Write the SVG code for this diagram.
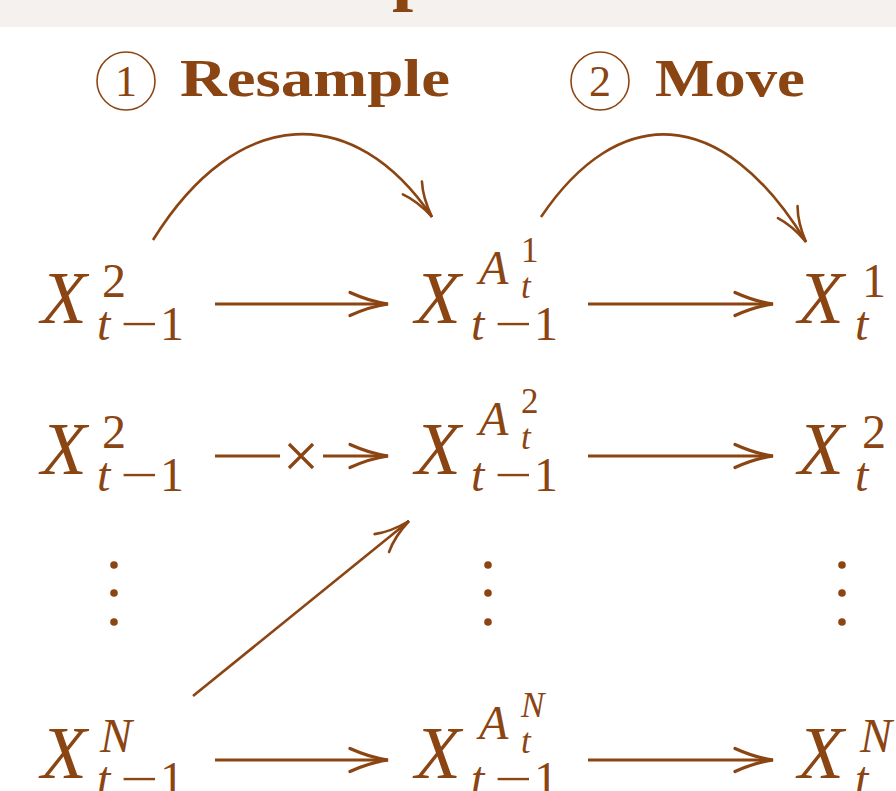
<svg xmlns="http://www.w3.org/2000/svg" width="896" height="791" viewBox="0 0 896 791">
<style>
.m{font-family:"Liberation Serif","Times New Roman",serif;fill:#8B4513}
.X{font-style:italic;font-size:75px}
.s{font-size:48px}
.si{font-style:italic;font-size:48px}
.ss{font-size:35px}
.ssi{font-style:italic;font-size:35px}
.lbl{font-family:"Liberation Serif",serif;font-weight:bold;font-size:52px;fill:#8B4513}
.cn{font-family:"Liberation Serif",serif;font-size:44px;fill:#8B4513}
.ln{stroke:#8B4513;stroke-width:3.2;fill:none}
.cv{stroke:#8B4513;stroke-width:2.6;fill:none}
.dot{fill:#8B4513}
</style>
<defs>
<marker id="lh" markerUnits="userSpaceOnUse" orient="auto" viewBox="-42 -16 46 32" refX="0" refY="0" markerWidth="46" markerHeight="32" overflow="visible">
<path d="M-38,-11.5 Q-18,-2.5 0,0 Q-18,2.5 -38,11.5" fill="none" stroke="#8B4513" stroke-width="3.2" stroke-linecap="round"/>
</marker>
<marker id="th" markerUnits="userSpaceOnUse" orient="auto" viewBox="-40 -16 44 32" refX="0" refY="0" markerWidth="44" markerHeight="32" overflow="visible">
<path d="M-35,-11.5 Q-21,-3 0,0 Q-21,3 -35,11.5" fill="none" stroke="#8B4513" stroke-width="2.6" stroke-linecap="round"/>
</marker>
</defs>
<rect x="0" y="0" width="896" height="27" fill="#f5f1ee"/>
<text x="392" y="-4.5" font-family="Liberation Serif,serif" font-weight="bold" font-size="76" fill="#8B4513">p</text>

<g id="label-resample">
<circle cx="126" cy="81" r="29" fill="none" stroke="#8B4513" stroke-width="1.6"/>
<text class="cn" x="126" y="96" text-anchor="middle">1</text>
<text class="lbl" x="180" y="96" textLength="270" lengthAdjust="spacingAndGlyphs">Resample</text>
</g>
<g id="label-move">
<circle cx="600" cy="81" r="29" fill="none" stroke="#8B4513" stroke-width="1.6"/>
<text class="cn" x="600" y="96" text-anchor="middle">2</text>
<text class="lbl" x="655" y="96" textLength="150" lengthAdjust="spacingAndGlyphs">Move</text>
</g>

<!-- Row 1 -->
<g id="x-prev-row1" class="m">
<text class="X" x="41" y="323">X</text>
<text class="s" x="102" y="297">2</text>
<text class="si" x="97" y="340">t</text>
<text class="s" x="120" y="340" textLength="38" lengthAdjust="spacingAndGlyphs">−</text>
<text class="s" x="160" y="340">1</text>
</g>
<g id="x-anc-row1" class="m">
<text class="X" x="415" y="323">X</text>
<text class="si" x="479" y="284">A</text>
<text class="ss" x="521" y="262">1</text>
<text class="ssi" x="521" y="298">t</text>
<text class="si" x="471" y="340">t</text>
<text class="s" x="494" y="340" textLength="38" lengthAdjust="spacingAndGlyphs">−</text>
<text class="s" x="534" y="340">1</text>
</g>
<g id="x-new-row1" class="m">
<text class="X" x="798" y="323">X</text>
<text class="s" x="862" y="297">1</text>
<text class="si" x="855" y="340">t</text>
</g>

<!-- Row 2 -->
<g id="x-prev-row2" class="m" transform="translate(0,151)">
<text class="X" x="41" y="323">X</text>
<text class="s" x="102" y="297">2</text>
<text class="si" x="97" y="340">t</text>
<text class="s" x="120" y="340" textLength="38" lengthAdjust="spacingAndGlyphs">−</text>
<text class="s" x="160" y="340">1</text>
</g>
<g id="x-anc-row2" class="m" transform="translate(0,151)">
<text class="X" x="415" y="323">X</text>
<text class="si" x="479" y="284">A</text>
<text class="ss" x="521" y="262">2</text>
<text class="ssi" x="521" y="298">t</text>
<text class="si" x="471" y="340">t</text>
<text class="s" x="494" y="340" textLength="38" lengthAdjust="spacingAndGlyphs">−</text>
<text class="s" x="534" y="340">1</text>
</g>
<g id="x-new-row2" class="m" transform="translate(0,151)">
<text class="X" x="798" y="323">X</text>
<text class="s" x="862" y="297">2</text>
<text class="si" x="855" y="340">t</text>
</g>

<!-- Row N -->
<g id="x-prev-rowN" class="m" transform="translate(0,455)">
<text class="X" x="41" y="323">X</text>
<text class="si" x="100" y="297">N</text>
<text class="si" x="97" y="340">t</text>
<text class="s" x="120" y="340" textLength="38" lengthAdjust="spacingAndGlyphs">−</text>
<text class="s" x="160" y="340">1</text>
</g>
<g id="x-anc-rowN" class="m" transform="translate(0,455)">
<text class="X" x="415" y="323">X</text>
<text class="si" x="479" y="284">A</text>
<text class="ssi" x="521" y="262">N</text>
<text class="ssi" x="521" y="298">t</text>
<text class="si" x="471" y="340">t</text>
<text class="s" x="494" y="340" textLength="38" lengthAdjust="spacingAndGlyphs">−</text>
<text class="s" x="534" y="340">1</text>
</g>
<g id="x-new-rowN" class="m" transform="translate(0,455)">
<text class="X" x="798" y="323">X</text>
<text class="si" x="860" y="297">N</text>
<text class="si" x="855" y="340">t</text>
</g>

<!-- vertical dots -->
<g id="vdots-left"><circle class="dot" cx="114" cy="565" r="3.8"/><circle class="dot" cx="114" cy="593" r="3.8"/><circle class="dot" cx="114" cy="622" r="3.8"/></g>
<g id="vdots-mid"><circle class="dot" cx="488" cy="565" r="3.8"/><circle class="dot" cx="488" cy="593" r="3.8"/><circle class="dot" cx="488" cy="622" r="3.8"/></g>
<g id="vdots-right"><circle class="dot" cx="842" cy="565" r="3.8"/><circle class="dot" cx="842" cy="593" r="3.8"/><circle class="dot" cx="842" cy="622" r="3.8"/></g>

<g id="connectors">
<line class="ln" x1="215" y1="304" x2="388" y2="304" marker-end="url(#lh)"/>
<line class="ln" x1="588" y1="304" x2="773" y2="304" marker-end="url(#lh)"/>
<line class="ln" x1="215" y1="456" x2="280" y2="456"/>
<path class="ln" d="M289,444 L313,468 M313,444 L289,468" stroke-width="2.8"/>
<line class="ln" x1="323" y1="456" x2="388" y2="456" marker-end="url(#lh)"/>
<line class="ln" x1="588" y1="456" x2="773" y2="456" marker-end="url(#lh)"/>
<line class="ln" x1="215" y1="760" x2="388" y2="760" marker-end="url(#lh)"/>
<line class="ln" x1="588" y1="760" x2="773" y2="760" marker-end="url(#lh)"/>
<path class="cv" d="M153,240 C238,103 355,103 432,217" marker-end="url(#th)"/>
<path class="cv" d="M541,217 C618,103 721,103 806,242" marker-end="url(#th)"/>
<line class="cv" x1="193" y1="696" x2="409" y2="521" marker-end="url(#th)"/>
</g>
</svg>
